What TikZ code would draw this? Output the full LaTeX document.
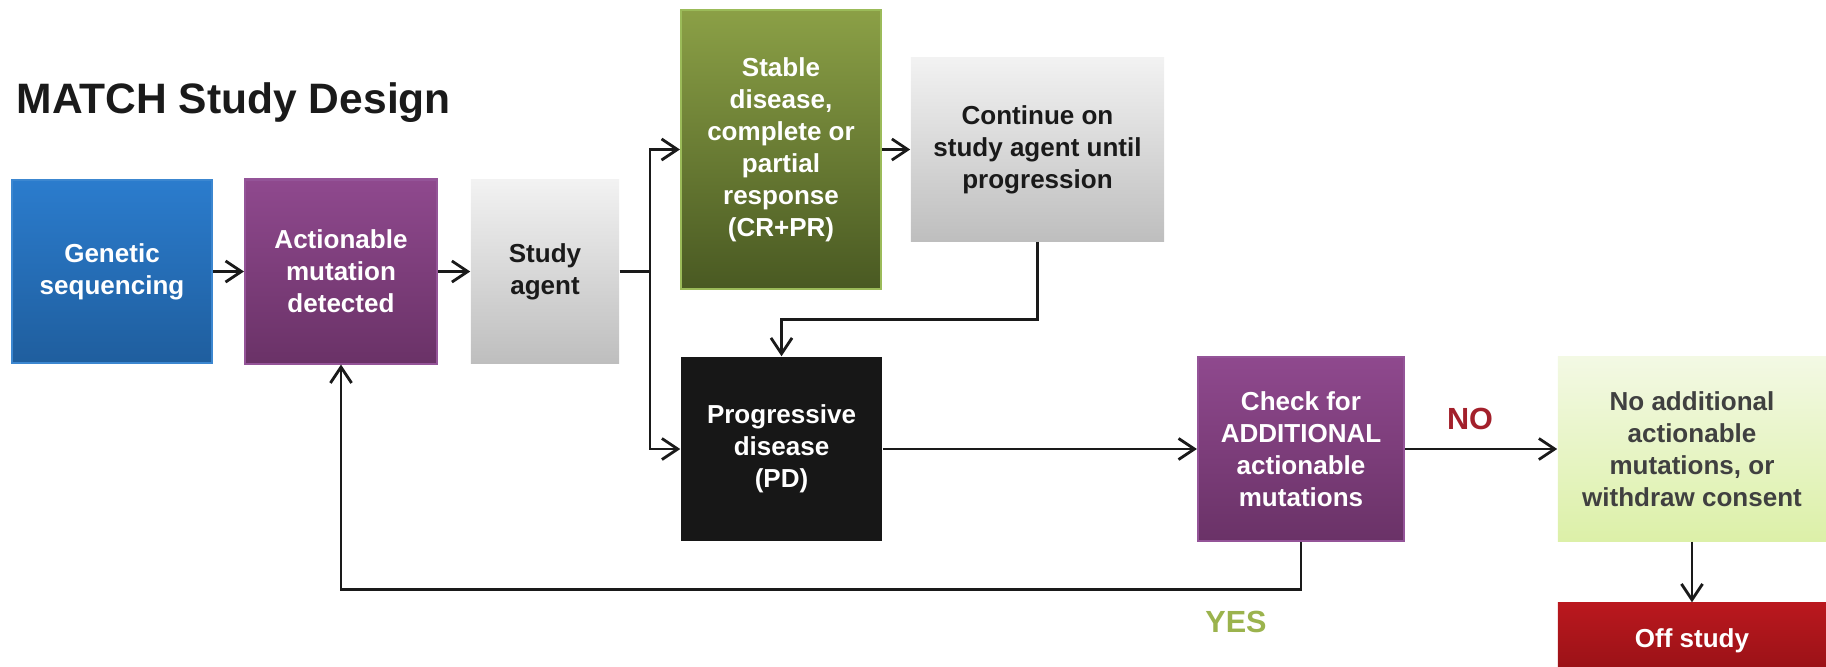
\documentclass[tikz,border=0pt]{standalone}
\usepackage{fontspec}
\setmainfont{Liberation Sans}
\usepackage{xcolor}
\usepackage{tikz}
\usetikzlibrary{arrows.meta}
\definecolor{bluetop}{RGB}{43, 124, 205}
\definecolor{bluebot}{RGB}{31, 94, 158}
\definecolor{blueline}{RGB}{60, 135, 208}
\definecolor{purpletop}{RGB}{143, 73, 142}
\definecolor{purplebot}{RGB}{106, 50, 103}
\definecolor{purpleline}{RGB}{148, 84, 152}
\definecolor{greytop}{RGB}{242, 242, 242}
\definecolor{greybot}{RGB}{190, 190, 190}
\definecolor{greentop}{RGB}{139, 160, 70}
\definecolor{greenbot}{RGB}{73, 89, 34}
\definecolor{greenline}{RGB}{155, 187, 89}
\definecolor{paletop}{RGB}{243, 249, 228}
\definecolor{palebot}{RGB}{220, 240, 168}
\definecolor{redtop}{RGB}{186, 24, 30}
\definecolor{redbot}{RGB}{150, 17, 22}
\definecolor{notext}{RGB}{163, 32, 43}
\definecolor{yestext}{RGB}{155, 179, 77}
\definecolor{inkgrey}{RGB}{26, 26, 26}

\begin{document}
\begin{tikzpicture}[x=0.01cm, y=-0.01cm,
               box/.style = {inner sep=0pt, align=center, font=\bfseries\fontsize{7.4}{9.1}\selectfont},
           bluebox/.style = {box, text=white, top color=bluetop, bottom color=bluebot, draw=blueline, line width=0.6pt},
         purplebox/.style = {box, text=white, top color=purpletop, bottom color=purplebot, draw=purpleline, line width=0.6pt},
           greybox/.style = {box, text=inkgrey, top color=greytop, bottom color=greybot},
          greenbox/.style = {box, text=white, top color=greentop, bottom color=greenbot, draw=greenline, line width=0.6pt},
          blackbox/.style = {box, text=white, fill=inkgrey!90!black},
           palebox/.style = {box, text=black!75, top color=paletop, bottom color=palebot},
            redbox/.style = {box, text=white, top color=redtop, bottom color=redbot},
               arr/.style = {-{Straight Barb[length=4.5pt, width=6pt]}, line width=0.8pt, draw=inkgrey},
              link/.style = {line width=0.8pt, draw=inkgrey},
            answer/.style = {font=\bfseries\fontsize{8.7}{10}\selectfont}]
    \useasboundingbox (0,0) rectangle (1826,666);

    % title
    \node[anchor=base west, inner sep=0pt, text=inkgrey, font=\bfseries\fontsize{12.1}{14}\selectfont] (title) at (16,113) {MATCH Study Design};

    % boxes
    \node[bluebox,   minimum width=2.00cm, minimum height=1.83cm] (seq)    at (112,271.5)   {Genetic\\sequencing};
    \node[purplebox, minimum width=1.92cm, minimum height=1.84cm] (detect) at (341,271.5)   {Actionable\\mutation\\detected};
    \node[greybox,   minimum width=1.48cm, minimum height=1.83cm] (agent)  at (545,271.5)   {Study\\agent};
    \node[greenbox,  minimum width=2.00cm, minimum height=2.79cm] (stable) at (781,149.5)   {Stable\\disease,\\complete or\\partial\\response\\(CR+PR)};
    \node[greybox,   minimum width=2.53cm, minimum height=1.83cm] (cont)   at (1037.5,149.5) {Continue on\\study agent until\\progression};
    \node[blackbox,  minimum width=2.01cm, minimum height=1.84cm] (pd)     at (781.5,449)   {Progressive\\disease\\(PD)};
    \node[purplebox, minimum width=2.06cm, minimum height=1.84cm] (check)  at (1301,449)    {Check for\\ADDITIONAL\\actionable\\mutations};
    \node[palebox,   minimum width=2.68cm, minimum height=1.84cm] (noadd)  at (1692,449)    {No additional\\actionable\\mutations, or\\withdraw consent};
    \node[redbox,    minimum width=2.68cm, minimum height=0.75cm] (off)    at (1692,640.5)  {Off study};

    % answers
    \node[answer, text=notext]  (no)  at (1470,419) {NO};
    \node[answer, text=yestext] (yes) at (1236,622) {YES};

    % connectors
    \draw[arr] (seq) -- (detect);
    \draw[arr] (detect) -- (agent);
    \coordinate (split) at (650,271.5);
    \draw[link] (agent.east) -- (split);
    \draw[arr] (split) |- (stable.west);
    \draw[arr] (split) |- (pd.west);
    \draw[arr] (stable) -- (cont);
    \draw[arr] (cont.south) -- ++(0,78) -| (pd.north);
    \draw[arr] (pd) -- (check);
    \draw[arr] (check) -- (noadd);
    \draw[arr] (noadd) -- (off);
    \draw[arr] (check.south) -- ++(0,47) -| (detect.south);
\end{tikzpicture}
\end{document}
